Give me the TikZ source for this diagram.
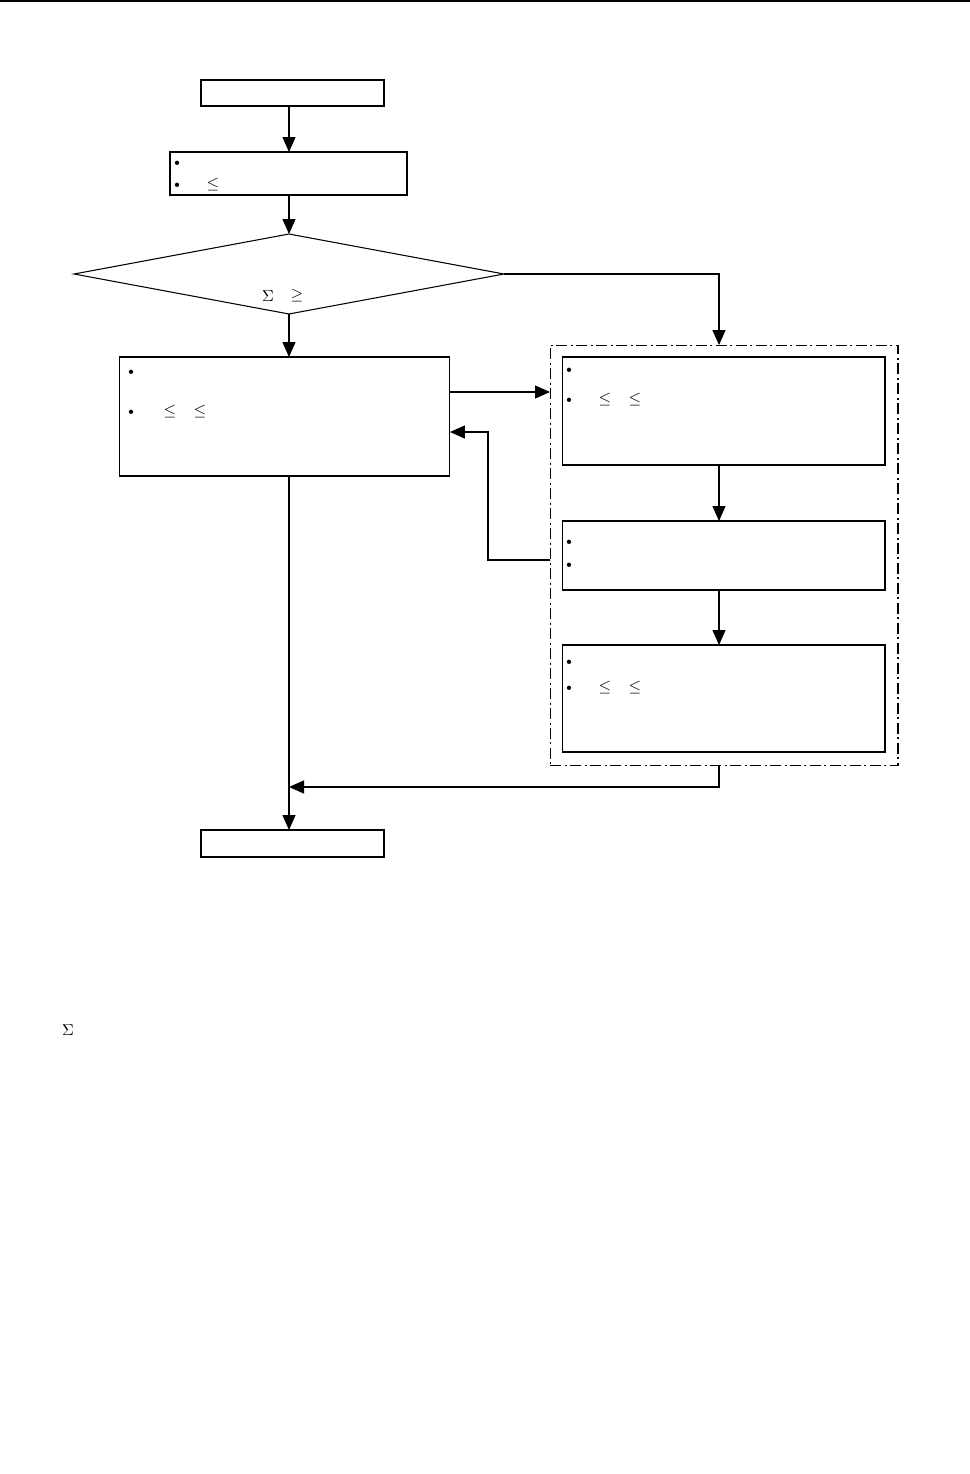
\documentclass[tikz,border=0pt]{standalone}
\usepackage{amsmath,amssymb}
\usetikzlibrary{arrows.meta,calc,shapes.geometric}

\begin{document}
\begin{tikzpicture}[x=0.02cm,y=-0.02cm,line width=0.6pt,
  >={Triangle[length=0.3cm,width=0.26cm]},
  box/.style={draw,inner sep=0pt,outer sep=0pt},
  groupbox/.style={draw,inner sep=0pt,outer sep=0pt,
    dash pattern=on 0.22cm off 0.07cm on 0.04cm off 0.07cm},
  sym/.style={inner sep=0pt,font=\small},
  dot/.style={inner sep=0pt,font=\tiny}]
\useasboundingbox (0,0) rectangle (970,1474);
\draw[line width=1.6pt] (0,1) -- (970,1);
% main column
\node[box,minimum width=3.66cm,minimum height=0.52cm] (start) at (292.5,93) {};
\node[box,minimum width=4.74cm,minimum height=0.86cm] (init) at (288.5,173.5) {};
\node[draw,diamond,inner sep=0pt,outer sep=0pt,minimum width=8.6cm,minimum height=1.6cm] (check) at (289,274) {};
\node[box,minimum width=6.62cm,minimum height=2.38cm] (run) at (284.5,416.5) {};
\node[box,minimum width=3.66cm,minimum height=0.54cm] (stop) at (292.5,843.5) {};
% right column
\node[groupbox,minimum width=6.96cm,minimum height=8.42cm] (group) at (724,555.5) {};
\node[box,minimum width=6.46cm,minimum height=2.16cm] (adj) at (723.5,411) {};
\node[box,minimum width=6.46cm,minimum height=1.38cm] (test) at (723.5,555.5) {};
\node[box,minimum width=6.46cm,minimum height=2.14cm] (fix) at (723.5,698.5) {};
\coordinate (ax) at (289,0);
\coordinate (rx) at (719,0);
\coordinate (turn) at (488,560);
\coordinate (join) at (719,787);
% connectors
\draw[->] (start.south -| ax) -- (init.north -| ax);
\draw[->] (init.south -| ax) -- (check.north);
\draw[->] (check.south) -- (run.north -| ax);
\draw[->] (run.south -| ax) -- (stop.north -| ax);
\draw[->,line width=0.8pt] (check.east) -- (check.east -| rx) -- (group.north -| rx);
\draw[->] (run.east |- 0,392) -- (group.west |- 0,392);
\draw[->,line width=0.8pt] (group.west |- turn) -- (turn) -- (turn |- 0,432) -- (run.east |- 0,432);
\draw[->] (adj.south -| rx) -- (test.north -| rx);
\draw[->] (test.south -| rx) -- (fix.north -| rx);
\draw[->,line width=0.8pt] (group.south -| rx) -- (join) -- (ax |- join);
% symbols
\foreach \x/\y [count=\i] in {177/163,177/185,131/372,131/412,569/370,569/400,569/542,569/565,569/662,569/688}
  \node[dot] (b\i) at (\x,\y) {$\bullet$};
\foreach \x/\y [count=\i] in {213/185,170/412,200/412,605/400,635/400,605/688,635/688}
  \node[sym] (le\i) at (\x,\y) {$\leq$};
\node[sym] (sig1) at (268,296) {$\Sigma$};
\node[sym] (ge1) at (297,296) {$\geq$};
\node[sym] (sig2) at (68,1030) {$\Sigma$};
\end{tikzpicture}
\end{document}
